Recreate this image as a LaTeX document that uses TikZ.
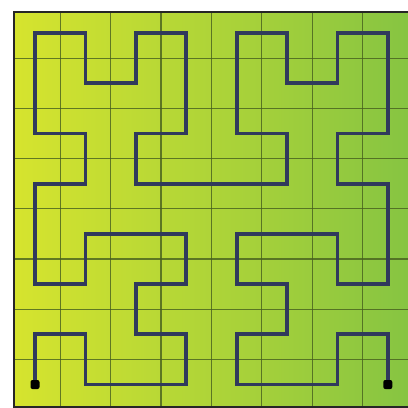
\documentclass[tikz,border=0pt]{standalone}
\definecolor{bgleft}{RGB}{214,228,46}
\definecolor{bgright}{RGB}{134,196,66}
\definecolor{gridc}{RGB}{70,95,30}
\definecolor{curvec}{RGB}{48,58,92}
\tikzset{
  gridline/.style={draw=gridc, line width=1.3pt, opacity=0.8},
  framebox/.style={draw=black!85, line width=1.8pt},
  hilbert/.style={draw=curvec, line width=3.8pt, line join=miter, line cap=butt},
  enddot/.style={rectangle, rounded corners=2pt, fill=black, inner sep=0pt, minimum size=9pt}
}
\begin{document}
\begin{tikzpicture}[x=1pt,y=-1pt]
\useasboundingbox (0,0) rectangle (408,408);
\clip (0,0) rectangle (408,408);
\fill[white] (0,0) rectangle (408,408);
\shade[left color=bgleft, right color=bgright] (14,12) rectangle (410,407);
\begin{scope}[shift={(35,384.5)}, x=50.4pt, y=50.2pt]
  \foreach \k in {0,...,6} {
    \draw[gridline] ({\k+0.5},{-0.43}) -- ({\k+0.5},{7.42});
    \draw[gridline] ({-0.42},{\k+0.5}) -- ({7.5},{\k+0.5});
  }
  \draw[hilbert] (0,0) coordinate (s)
    -- (0,1) -- (1,1) -- (1,0) -- (2,0) -- (3,0) -- (3,1) -- (2,1) -- (2,2) -- (3,2) -- (3,3) -- (2,3) -- (1,3) -- (1,2) -- (0,2) -- (0,3)
    -- (0,4) -- (1,4) -- (1,5) -- (0,5) -- (0,6) -- (0,7) -- (1,7) -- (1,6) -- (2,6) -- (2,7) -- (3,7) -- (3,6) -- (3,5) -- (2,5) -- (2,4) -- (3,4)
    -- (4,4) -- (5,4) -- (5,5) -- (4,5) -- (4,6) -- (4,7) -- (5,7) -- (5,6) -- (6,6) -- (6,7) -- (7,7) -- (7,6) -- (7,5) -- (6,5) -- (6,4) -- (7,4)
    -- (7,3) -- (7,2) -- (6,2) -- (6,3) -- (5,3) -- (4,3) -- (4,2) -- (5,2) -- (5,1) -- (4,1) -- (4,0) -- (5,0) -- (6,0) -- (6,1) -- (7,1) -- (7,0) coordinate (e);
  \node[enddot] (startdot) at (s) {};
  \node[enddot] (enddot) at (e) {};
\end{scope}
\draw[framebox] (14,12) rectangle (410,407);
\end{tikzpicture}
\end{document}
